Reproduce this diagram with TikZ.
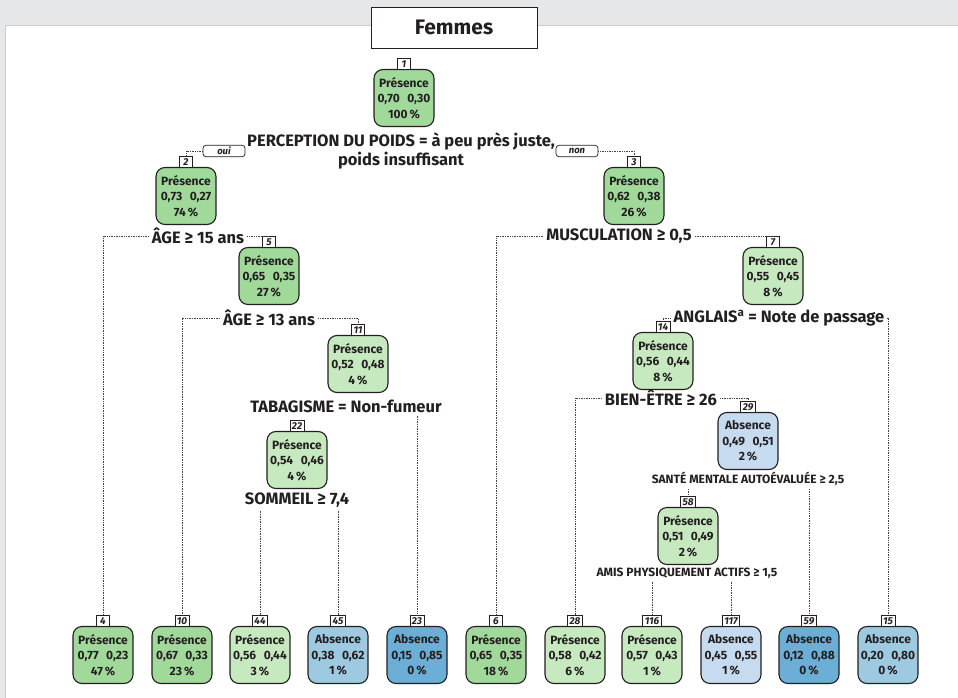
\documentclass[tikz,border=0pt]{standalone}
\usepackage{fontspec}
\setmainfont{Fira Sans}
\definecolor{bggray}{HTML}{E6E7E8}
\definecolor{gA}{HTML}{A1D99B}
\definecolor{gB}{HTML}{C7E9C0}
\definecolor{bA}{HTML}{C6DBEF}
\definecolor{bB}{HTML}{9ECAE1}
\definecolor{bC}{HTML}{6BAED6}
\definecolor{ink}{HTML}{231F20}
\newcommand\trbody[4]{#1\\#2\hspace{7.5pt}#3\\#4\,\%}
\tikzset{
  tree/.style={draw=ink, line width=1.1pt, rounded corners=9pt, minimum width=60pt,
    minimum height=57pt, inner sep=0pt, align=center, text=ink,
    font=\bfseries\fontsize{12}{15.5}\selectfont},
  numlab/.style={draw=ink, fill=white, line width=0.7pt, inner ysep=0pt, inner xsep=2pt,
    minimum height=11.5pt, minimum width=13pt, anchor=south, text=ink,
    font=\bfseries\itshape\fontsize{10}{10}\selectfont},
  split/.style={font=\bfseries\fontsize{16.5}{19}\selectfont, inner sep=3pt, text=ink, align=center},
  splitsm/.style={font=\bfseries\fontsize{12}{13}\selectfont, inner sep=3pt, text=ink},
  tag/.style={draw=ink, fill=white, rounded corners=3pt, line width=0.7pt, minimum width=42pt,
    minimum height=11.5pt, inner sep=0pt, text=ink, font=\bfseries\itshape\fontsize{9.5}{9.5}\selectfont},
  conn/.style={densely dotted, line width=0.7pt, draw=ink!85},
}
\begin{document}
\begin{tikzpicture}[x=1pt, y=-1pt]
\useasboundingbox (0,0) rectangle (958,698);
% page and panel
\fill[bggray] (0,0) rectangle (958,698);
\fill[white] (5,25) rectangle (958,698);
\draw[black!20, line width=0.6pt] (5,698) -- (5,25) -- (958,25);
\node[draw=ink, fill=white, line width=0.8pt, minimum width=166pt, minimum height=41pt,
  font=\bfseries\fontsize{21}{24}\selectfont, text=ink] (title) at (454,27.5) {Femmes};

% inner nodes
\node[tree, fill=gA] (n1) at (404,98) {\trbody{Présence}{0,70}{0,30}{100}};
\node[tree, fill=gA] (n2) at (186,196) {\trbody{Présence}{0,73}{0,27}{74}};
\node[tree, fill=gA] (n3) at (634,196) {\trbody{Présence}{0,62}{0,38}{26}};
\node[tree, fill=gA] (n5) at (269,276) {\trbody{Présence}{0,65}{0,35}{27}};
\node[tree, fill=gB] (n11) at (358,364) {\trbody{Présence}{0,52}{0,48}{4}};
\node[tree, fill=gB] (n22) at (297,460) {\trbody{Présence}{0,54}{0,46}{4}};
\node[tree, fill=gB] (n7) at (773,276) {\trbody{Présence}{0,55}{0,45}{8}};
\node[tree, fill=gB] (n14) at (663,361) {\trbody{Présence}{0,56}{0,44}{8}};
\node[tree, fill=bA] (n29) at (748,441) {\trbody{Absence}{0,49}{0,51}{2}};
\node[tree, fill=gB] (n58) at (688,536) {\trbody{Présence}{0,51}{0,49}{2}};

% leaves
\node[tree, fill=gA] (n4) at (103,655) {\trbody{Présence}{0,77}{0,23}{47}};
\node[tree, fill=gA] (n10) at (182,655) {\trbody{Présence}{0,67}{0,33}{23}};
\node[tree, fill=gB] (n44) at (260,655) {\trbody{Présence}{0,56}{0,44}{3}};
\node[tree, fill=bB] (n45) at (338,655) {\trbody{Absence}{0,38}{0,62}{1}};
\node[tree, fill=bC] (n23) at (417,655) {\trbody{Absence}{0,15}{0,85}{0}};
\node[tree, fill=gA] (n6) at (496,655) {\trbody{Présence}{0,65}{0,35}{18}};
\node[tree, fill=gB] (n28) at (575,655) {\trbody{Présence}{0,58}{0,42}{6}};
\node[tree, fill=gB] (n116) at (652,655) {\trbody{Présence}{0,57}{0,43}{1}};
\node[tree, fill=bA] (n117) at (731,655) {\trbody{Absence}{0,45}{0,55}{1}};
\node[tree, fill=bC] (n59) at (809,655) {\trbody{Absence}{0,12}{0,88}{0}};
\node[tree, fill=bB] (n15) at (888,655) {\trbody{Absence}{0,20}{0,80}{0}};

% node numbers
\foreach \k in {1,2,3,5,11,22,7,14,29,58,4,10,44,45,23,6,28,116,117,59,15}
  \node[numlab] (l\k) at ([yshift=-1pt]n\k.north) {\k};

% split labels
\node[split] (s1) at (401,150.5) {PERCEPTION DU POIDS = à peu près juste,\\poids insuffisant};
\node[split] (s2) at (198,236) {ÂGE ≥ 15 ans};
\node[split] (s5) at (269,318) {ÂGE ≥ 13 ans};
\node[split] (s11) at (346,406) {TABAGISME = Non-fumeur};
\node[split] (s22) at (297,500) {SOMMEIL ≥ 7,4};
\node[split] (s3) at (619,236) {MUSCULATION ≥ 0,5};
\node[split] (s7) at (779,318) {ANGLAIS\textsuperscript{a} = Note de passage};
\node[split] (s14) at (661,398) {BIEN-ÊTRE ≥ 26};
\node[splitsm] (s29) at (748,479) {SANTÉ MENTALE AUTOÉVALUÉE ≥ 2,5};
\node[splitsm] (s58) at (687,573) {AMIS PHYSIQUEMENT ACTIFS ≥ 1,5};

% branch tags
\node[tag] (oui) at (224,151) {oui};
\node[tag] (non) at (577,151) {non};

% connectors
\draw[conn] (oui.west) -| (l2.north);
\draw[conn] (non.east) -| (l3.north);
\draw[conn] (s2.west) -| (l4.north);
\draw[conn] (s2.east) -| (l5.north);
\draw[conn] (s5.west) -| (l10.north);
\draw[conn] (s5.east) -| (l11.north);
\draw[conn] (l23.north |- s11.south) -- (l23.north);
\draw[conn] (l44.north |- s22.south) -- (l44.north);
\draw[conn] (l45.north |- s22.south) -- (l45.north);
\draw[conn] (s3.west) -| (l6.north);
\draw[conn] (s3.east) -| (l7.north);
\draw[conn] (s7.west) -| (l14.north);
\draw[conn] (s7.east) -| (l15.north);
\draw[conn] (s14.west) -| (l28.north);
\draw[conn] (s14.east) -| (l29.north);
\draw[conn] (l58.north |- s29.south) -- (l58.north);
\draw[conn] (l59.north |- s29.south) -- (l59.north);
\draw[conn] (l116.north |- s58.south) -- (l116.north);
\draw[conn] (l117.north |- s58.south) -- (l117.north);
\end{tikzpicture}
\end{document}
